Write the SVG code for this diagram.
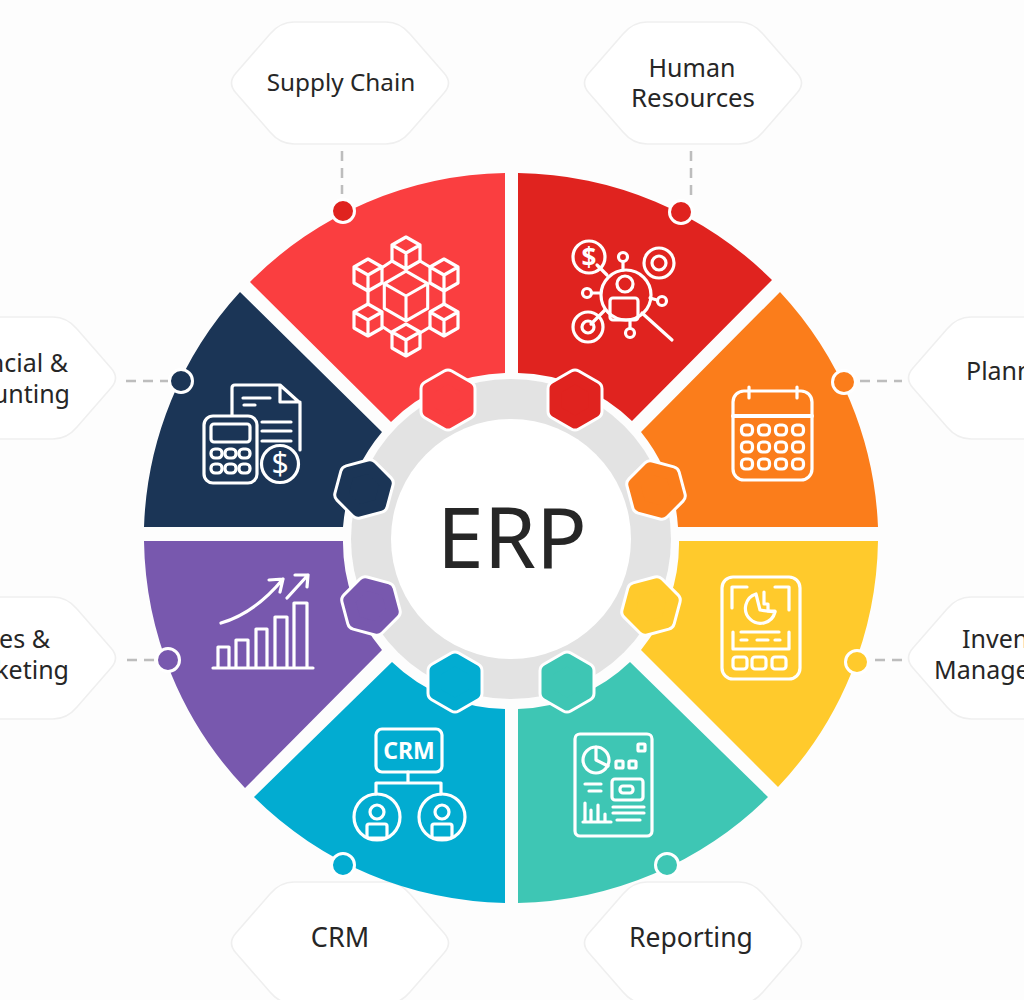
<svg xmlns="http://www.w3.org/2000/svg" width="1024" height="1000" viewBox="0 0 1024 1000">
<style>
text{font-family:"Noto Sans","Liberation Sans",sans-serif;fill:#262626}
.lb{font-size:25px}
.m{text-anchor:middle}
.e{text-anchor:end}
.card{fill:#fff;stroke:#efefef;stroke-width:1.6}
.dash{stroke:#bdbdbd;stroke-width:2.5;stroke-dasharray:10 7;fill:none}
.dot{stroke:#fff;stroke-width:3}
.ic{fill:none;stroke:#fff;stroke-width:3.2;stroke-linecap:round;stroke-linejoin:round}
.ic text{fill:#fff;stroke:none}
.hw{fill:#fff;stroke:#fff;stroke-width:18;stroke-linejoin:round}
.hc{stroke-width:12;stroke-linejoin:round}
</style>
<defs>
<path id="card" d="M-104,-10 L-70,-49 Q-60,-61 -46,-61 L46,-61 Q60,-61 70,-49 L104,-10 Q113,0 104,10 L70,49 Q60,61 46,61 L-46,61 Q-60,61 -70,49 L-104,10 Q-113,0 -104,-10Z"/>
<polygon id="hx" points="0,-22.5 19.5,-11.25 19.5,11.25 0,22.5 -19.5,11.25 -19.5,-11.25"/>
<path id="cube" d="M0,-16 L14,-8 V8 L0,16 L-14,8 V-8Z M-14,-8 L0,0 L14,-8 M0,0 V16"/>
<rect id="key" x="-5.5" y="-5" width="11" height="10" rx="4"/>
</defs>
<rect width="1024" height="1000" fill="#fdfdfd"/>
<g id="connectors">
<path class="dash" d="M342,151V194"/>
<path class="dash" d="M691,151V198"/>
<path class="dash" d="M126,381H168"/>
<path class="dash" d="M860,381H902"/>
<path class="dash" d="M127,660H156"/>
<path class="dash" d="M875,660H902"/>
</g>
<g id="ring">
<circle cx="511" cy="539" r="160" fill="#e3e3e3"/>
<circle cx="511" cy="539" r="120" fill="#fff"/>
</g>
<g id="supply-chain">
<path fill="#fa3e40" d="M505,173 A366,366 0 0 0 250,282 L391,422 A168,168 0 0 1 505,373Z"/>
<g class="ic">
<use href="#cube" transform="translate(406,296) scale(1.55)" stroke-width="2"/>
<use href="#cube" x="406" y="253"/><use href="#cube" x="368" y="275"/><use href="#cube" x="444" y="275"/><use href="#cube" x="368" y="320"/><use href="#cube" x="444" y="320"/><use href="#cube" x="406" y="340"/>
<path d="M383,267L392,261M420,261L430,267M368,291V304M444,291V304M383,327L392,333M420,333L430,327"/>
</g>
<use href="#card" class="card" x="340" y="83"/>
<text class="m" font-size="24.3" x="341" y="91">Supply Chain</text>
<circle class="dot" cx="343" cy="211" r="11.5" fill="#e0231f"/>
<use href="#hx" class="hw" x="448" y="400"/><use href="#hx" class="hc" x="448" y="400" fill="#fa3e40" stroke="#fa3e40"/>
</g>
<g id="human-resources">
<path fill="#e0231f" d="M518,173 A366,366 0 0 1 772,280 L632,421 A168,168 0 0 0 518,373Z"/>
<g class="ic">
<circle cx="626" cy="295" r="25"/><circle cx="625" cy="284" r="8"/>
<rect x="610" y="298" width="28" height="22" rx="3"/>
<circle cx="589" cy="257" r="16"/><text class="m" x="589" y="267" font-size="26" font-weight="700">$</text>
<circle cx="659" cy="263" r="15"/><circle cx="659" cy="263" r="7"/>
<circle cx="588" cy="327" r="15"/><circle cx="588" cy="327" r="6"/>
<path d="M591,324L605,310M597,265L607,275M642,313L672,340M623,262V270M592,293H600M630,328V320M657,300L650,298"/>
<circle cx="623" cy="257" r="4.5"/><circle cx="587" cy="293" r="4.5"/><circle cx="662" cy="301" r="4.5"/><circle cx="630" cy="333" r="4.5"/>
</g>
<use href="#card" class="card" x="693" y="83"/>
<text class="lb m" x="692" y="77">Human</text><text class="m" font-size="25.8" x="693" y="107">Resources</text>
<circle class="dot" cx="681" cy="212" r="11.5" fill="#e0231f"/>
<use href="#hx" class="hw" x="575" y="400"/><use href="#hx" class="hc" x="575" y="400" fill="#e0231f" stroke="#e0231f"/>
</g>
<g id="planning">
<path fill="#fb7d1b" d="M780,292 A366,366 0 0 1 878,527 L678,527 A168,168 0 0 0 641,432Z"/>
<g class="ic">
<rect x="733" y="391" width="79" height="89" rx="11"/><path stroke-width="4" d="M733,416H812"/><path d="M749,387V398M797,387V398"/>
<use href="#key" x="747" y="430"/><use href="#key" x="764" y="430"/><use href="#key" x="781" y="430"/><use href="#key" x="798" y="430"/>
<use href="#key" x="747" y="447"/><use href="#key" x="764" y="447"/><use href="#key" x="781" y="447"/><use href="#key" x="798" y="447"/>
<use href="#key" x="747" y="464"/><use href="#key" x="764" y="464"/><use href="#key" x="781" y="464"/><use href="#key" x="798" y="464"/>
</g>
<use href="#card" class="card" x="1017" y="378"/>
<text class="lb" x="966" y="380">Planning</text>
<circle class="dot" cx="844" cy="382" r="11.5" fill="#fb7d1b"/>
<use href="#hx" class="hw" transform="translate(656,490) rotate(-15)"/><use href="#hx" class="hc" transform="translate(656,490) rotate(-15)" fill="#fb7d1b" stroke="#fb7d1b"/>
</g>
<g id="inventory-management">
<path fill="#ffca2c" d="M878,541 A366,366 0 0 1 778,787 L641,650 A168,168 0 0 0 679,541Z"/>
<g class="ic">
<rect x="722" y="577" width="78" height="102" rx="11"/>
<path d="M732,608V587H747M775,587H789V610"/>
<path d="M756,594A15,15 0 1 0 775,612L760,610Z"/><path d="M764,592V604L768,604V611H775"/>
<path d="M741,632H779M733,632V649H789V632M741,640H747M757,640H768M775,640H780"/>
<rect x="733" y="657" width="14" height="12" rx="3"/><rect x="752" y="657" width="14" height="12" rx="3"/><rect x="772" y="657" width="14" height="12" rx="3"/>
</g>
<use href="#card" class="card" x="1017" y="658"/>
<text class="lb" x="962" y="648">Inventory</text><text class="lb" x="934" y="679">Management</text>
<circle class="dot" cx="857" cy="662" r="11.5" fill="#ffca2c"/>
<use href="#hx" class="hw" transform="translate(651,606) rotate(15)"/><use href="#hx" class="hc" transform="translate(651,606) rotate(15)" fill="#ffca2c" stroke="#ffca2c"/>
</g>
<g id="reporting">
<use href="#card" class="card" x="693" y="943"/>
<path fill="#3ec6b4" d="M768,797 A366,366 0 0 1 518,903 L518,709 A168,168 0 0 0 630,662Z"/>
<g class="ic">
<rect x="575" y="734" width="77" height="102" rx="5"/>
<circle cx="596" cy="760" r="13"/><path d="M596,747V760L608,766"/>
<rect x="616" y="761" width="7" height="7" rx="1"/><rect x="629" y="761" width="7" height="7" rx="1"/><rect x="638" y="744" width="7" height="7" rx="1"/>
<path d="M585,784H601M589,791H601"/>
<rect x="612" y="779" width="31" height="21" rx="3"/><rect x="620" y="786" width="13" height="7" rx="3"/>
<path d="M583,822H611M585,803V822M591,810V822M598,805V822M605,814V822M613,807H644M613,813H644M617,820H640"/>
</g>
<text class="m" font-size="26.5" x="691" y="947">Reporting</text>
<circle class="dot" cx="667" cy="865" r="11.5" fill="#3ec6b4"/>
<use href="#hx" class="hw" x="567" y="682"/><use href="#hx" class="hc" x="567" y="682" fill="#3ec6b4" stroke="#3ec6b4"/>
</g>
<g id="crm">
<use href="#card" class="card" x="340" y="943"/>
<path fill="#02acd1" d="M505,903 A366,366 0 0 1 254,797 L392,662 A168,168 0 0 0 505,709Z"/>
<g class="ic">
<rect x="376" y="729" width="66" height="43" rx="6"/>
<text class="m" x="409" y="759" font-size="23" font-weight="700">CRM</text>
<path d="M408,772V783M376,794V783H441V794"/>
<circle cx="377" cy="817" r="23"/><circle cx="442" cy="817" r="23"/>
<circle cx="377" cy="812" r="7"/><circle cx="442" cy="812" r="7"/>
<rect x="367" y="824" width="20" height="14" rx="2"/><rect x="432" y="824" width="20" height="14" rx="2"/>
</g>
<text class="m" font-size="27" x="340" y="947">CRM</text>
<circle class="dot" cx="343" cy="865" r="11.5" fill="#02acd1"/>
<use href="#hx" class="hw" x="455" y="682"/><use href="#hx" class="hc" x="455" y="682" fill="#02acd1" stroke="#02acd1"/>
</g>
<g id="sales-marketing">
<path fill="#7858ae" d="M245,788 A366,366 0 0 1 144,541 L343,541 A168,168 0 0 0 382,650Z"/>
<g class="ic">
<path d="M213,668H313M218,668V647H229V668M236,668V640H248V668M256,668V629H267V668M275,668V617H287V668M294,668V603H307V668"/>
<path d="M221,623Q255,613 283,579M269,580L283,579L280,592M287,598L308,575M295,575H308L307,587"/>
</g>
<use href="#card" class="card" x="7" y="658"/>
<text class="lb e" x="50" y="648">Sales &amp;</text><text class="lb e" x="69" y="679">Marketing</text>
<circle class="dot" cx="168" cy="660" r="11.5" fill="#7858ae"/>
<use href="#hx" class="hw" transform="translate(371,606) rotate(-15)"/><use href="#hx" class="hc" transform="translate(371,606) rotate(-15)" fill="#7858ae" stroke="#7858ae"/>
</g>
<g id="financial-accounting">
<path fill="#1b3556" d="M144,527 A366,366 0 0 1 240,292 L382,432 A168,168 0 0 0 343,527Z"/>
<g class="ic">
<path d="M232,415V388Q232,385 235,385H280L300,403V450M280,385V402H300M243,398H270M244,405H255M262,422H291M262,431H291M262,441H291"/>
<rect x="204" y="416" width="53" height="67" rx="9" fill="#1b3556"/><rect x="211" y="424" width="39" height="18" rx="3"/>
<rect x="211" y="449" width="11" height="9" rx="4"/><rect x="225" y="449" width="11" height="9" rx="4"/><rect x="239" y="449" width="11" height="9" rx="4"/>
<rect x="211" y="464" width="11" height="9" rx="4"/><rect x="225" y="464" width="11" height="9" rx="4"/><rect x="239" y="464" width="11" height="9" rx="4"/>
<circle cx="280" cy="464" r="18.5" fill="#1b3556"/><text class="m" x="280" y="474" font-size="30">$</text>
</g>
<use href="#card" class="card" x="7" y="378"/>
<text class="lb e" x="68" y="372">Financial &amp;</text><text class="lb e" x="70" y="403">Accounting</text>
<circle class="dot" cx="181" cy="381" r="11.5" fill="#1b3556"/>
<use href="#hx" class="hw" transform="translate(364,489) rotate(15)"/><use href="#hx" class="hc" transform="translate(364,489) rotate(15)" fill="#1b3556" stroke="#1b3556"/>
</g>
<g id="erp"><text class="m" x="512" y="568" font-size="84">ERP</text></g>
</svg>
